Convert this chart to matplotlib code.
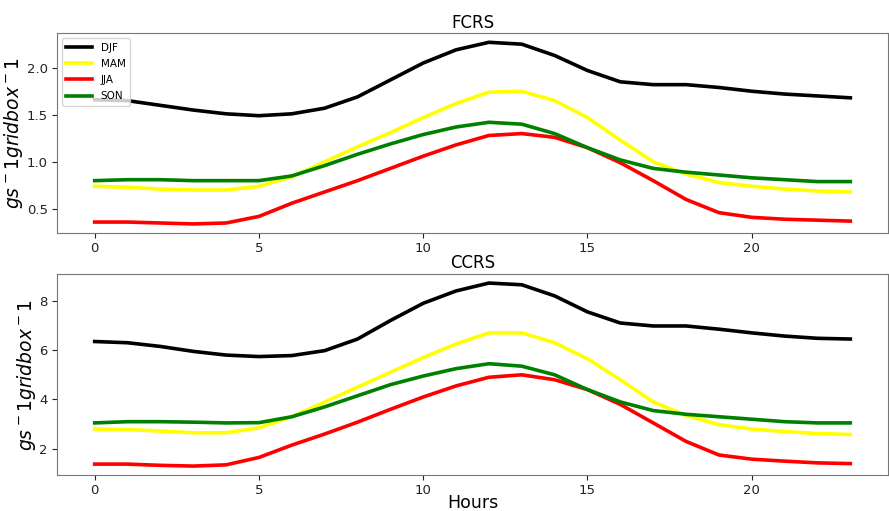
import matplotlib
matplotlib.use("Agg")
import matplotlib.pyplot as plt

hours = list(range(24))
seasons = ["DJF", "MAM", "JJA", "SON"]
colours = ["black", "yellow", "red", "green"]

# FCRS values per season
fcrs_djf = [1.66, 1.65, 1.60, 1.55, 1.51, 1.49, 1.51, 1.57, 1.69, 1.87, 2.05, 2.19,
            2.27, 2.25, 2.13, 1.97, 1.85, 1.82, 1.82, 1.79, 1.75, 1.72, 1.70, 1.68]
fcrs_mam = [0.74, 0.73, 0.71, 0.70, 0.70, 0.74, 0.84, 1.00, 1.16, 1.31, 1.47, 1.62,
            1.74, 1.75, 1.65, 1.47, 1.23, 1.00, 0.87, 0.78, 0.74, 0.71, 0.69, 0.68]
fcrs_jja = [0.36, 0.36, 0.35, 0.34, 0.35, 0.42, 0.56, 0.68, 0.80, 0.93, 1.06, 1.18,
            1.28, 1.30, 1.26, 1.15, 0.99, 0.80, 0.60, 0.46, 0.41, 0.39, 0.38, 0.37]
fcrs_son = [0.80, 0.81, 0.81, 0.80, 0.80, 0.80, 0.85, 0.96, 1.08, 1.19, 1.29, 1.37,
            1.42, 1.40, 1.30, 1.15, 1.02, 0.93, 0.89, 0.86, 0.83, 0.81, 0.79, 0.79]

# CCRS values per season
ccrs_djf = [6.35, 6.30, 6.15, 5.95, 5.80, 5.74, 5.78, 5.98, 6.45, 7.20, 7.90, 8.40,
            8.72, 8.65, 8.20, 7.55, 7.10, 6.98, 6.98, 6.85, 6.70, 6.57, 6.48, 6.45]
ccrs_mam = [2.80, 2.78, 2.72, 2.65, 2.65, 2.85, 3.30, 3.90, 4.50, 5.10, 5.70, 6.25,
            6.70, 6.70, 6.30, 5.65, 4.80, 3.90, 3.35, 2.98, 2.80, 2.70, 2.62, 2.58]
ccrs_jja = [1.38, 1.38, 1.33, 1.30, 1.35, 1.65, 2.15, 2.60, 3.08, 3.60, 4.10, 4.55,
            4.90, 5.00, 4.80, 4.40, 3.80, 3.05, 2.30, 1.75, 1.58, 1.50, 1.43, 1.40]
ccrs_son = [3.05, 3.10, 3.10, 3.08, 3.05, 3.06, 3.30, 3.70, 4.15, 4.60, 4.95, 5.25,
            5.45, 5.35, 5.00, 4.40, 3.90, 3.55, 3.40, 3.30, 3.20, 3.10, 3.05, 3.05]

fcrs = [fcrs_djf, fcrs_mam, fcrs_jja, fcrs_son]
ccrs = [ccrs_djf, ccrs_mam, ccrs_jja, ccrs_son]

fig = plt.figure(figsize=(8.89, 5.11), dpi=100)
ax1 = fig.add_axes([0.064, 0.544, 0.935, 0.391])
ax2 = fig.add_axes([0.064, 0.070, 0.935, 0.394])

ylabel = r'$gs^-1gridbox^-1$'

for ax, data, title in [(ax1, fcrs, "FCRS"), (ax2, ccrs, "CCRS")]:
    for vals, name, c in zip(data, seasons, colours):
        ax.plot(hours, vals, color=c, lw=2.6, label=name)
    ax.set_title(title, fontsize=12, pad=4)
    ax.set_ylabel(ylabel, fontsize=13.5, labelpad=1)
    ax.set_xticks([0, 5, 10, 15, 20])
    ax.tick_params(labelsize=9.5, colors='#222222', pad=3)
    for s in ax.spines.values():
        s.set_color('#777777')

ax1.set_yticks([0.5, 1.0, 1.5, 2.0])
ax2.set_yticks([2, 4, 6, 8])
ax1.legend(loc='upper left', fontsize=7.5, handlelength=2.5, borderpad=0.4, labelspacing=0.6)
ax2.set_xlabel("Hours", fontsize=12.5)
ax2.xaxis.set_label_coords(0.5, -0.092)

fig.savefig("out.png", dpi=100)
